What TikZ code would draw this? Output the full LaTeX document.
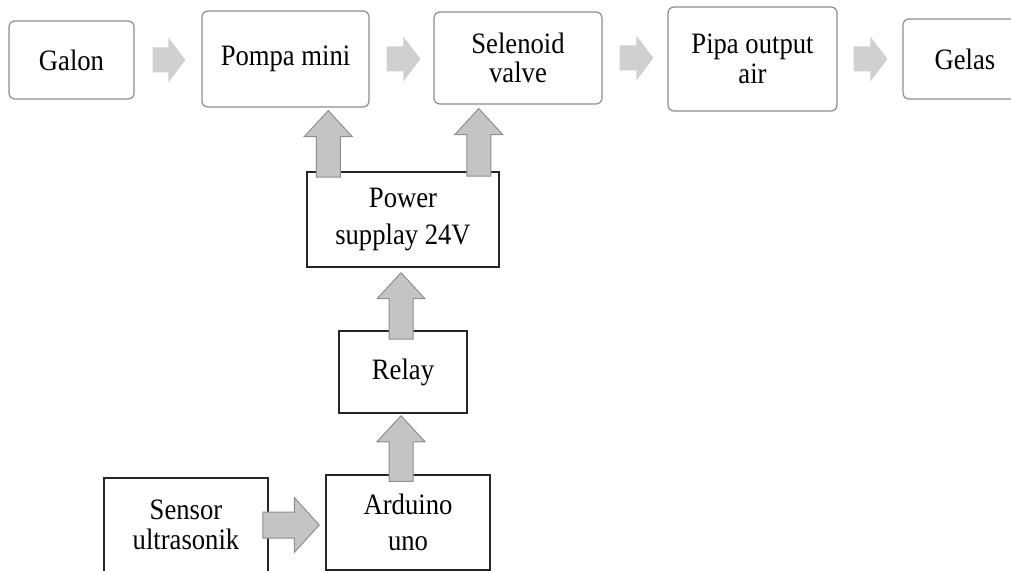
\documentclass[tikz,border=0pt]{standalone}
\usepackage{fontspec}
\setmainfont[FakeStretch=0.9]{Liberation Serif}
\usetikzlibrary{calc}

\definecolor{boxgray}{HTML}{8C8C8C}
\definecolor{pipefill}{HTML}{D0D0D0}
\definecolor{sigfill}{HTML}{C4C4C4}
\definecolor{sigline}{HTML}{8F8F8F}

\tikzset{
    rightblock/.style n args={3}{to path={let \p1=(\tikztostart), \p2=(\tikztotarget) in
        (\x1,\y1+#1) -- (\x2-#3,\y1+#1) -- (\x2-#3,\y1+#2) -- (\x2,\y1)
        -- (\x2-#3,\y1-#2) -- (\x2-#3,\y1-#1) -- (\x1,\y1-#1) -- cycle}},
    upblock/.style n args={3}{to path={let \p1=(\tikztostart), \p2=(\tikztotarget) in
        (\x1+#1,\y1) -- (\x1+#1,\y2-#3) -- (\x1+#2,\y2-#3) -- (\x1,\y2)
        -- (\x1-#2,\y2-#3) -- (\x1-#1,\y2-#3) -- (\x1-#1,\y1) -- cycle}},
    pipeflow/.style={fill=pipefill, draw=none, rightblock={6.25pt}{11.25pt}{8.5pt}},
    signal/.style={fill=sigfill, draw=sigline, line width=0.5pt},
    stagebox/.style={draw=boxgray, line width=0.6pt, rounded corners=3pt, fill=white,
        align=center, inner sep=0pt, font=\fontsize{14.8pt}{14.8pt}\selectfont},
    ctrlbox/.style={draw=black!85, line width=0.75pt, fill=white,
        align=center, inner sep=0pt, font=\fontsize{14.8pt}{15pt}\selectfont}
}

\begin{document}
\begin{tikzpicture}[x=0.5pt, y=-0.5pt]
    \useasboundingbox (0,0) rectangle (1011,571);
    \clip (0,0) rectangle (1011,571);

    \node[stagebox, minimum width=62.5pt, minimum height=39pt] (galon) at (71.5,60) {Galon};
    \node[stagebox, minimum width=83.5pt, minimum height=48pt] (pompa) at (285.5,59) {Pompa mini};
    \node[stagebox, minimum width=84pt, minimum height=46pt] (selenoid) at (518,58) {Selenoid\\valve};
    \node[stagebox, minimum width=84.5pt, minimum height=52pt] (pipa) at (752.5,59) {Pipa output\\air};
    \node[stagebox, minimum width=62pt, minimum height=40pt] (gelas) at (965,59) {Gelas};

    \node[ctrlbox, minimum width=96pt, minimum height=47.5pt] (power) at (403,219.5) {Power\\[3.5pt]supplay 24V};
    \node[ctrlbox, minimum width=64pt, minimum height=41pt] (relay) at (403,372) {Relay};
    \node[ctrlbox, minimum width=82pt, minimum height=47.5pt] (arduino) at (408,522.5) {Arduino\\[3pt]uno};
    \node[ctrlbox, minimum width=82pt, minimum height=47pt] (sensor) at (186,525) {Sensor\\ultrasonik};

    \path[pipeflow] ($(galon.east)+(18,0)$) to ($(pompa.west)+(-16,0)$);
    \path[pipeflow] ($(pompa.east)+(17,0)$) to ($(selenoid.west)+(-13,0)$);
    \path[pipeflow] ($(selenoid.east)+(17,0)$) to ($(pipa.west)+(-14,0)$);
    \path[pipeflow] ($(pipa.east)+(16,0)$) to ($(gelas.west)+(-15,0)$);

    \path[signal, upblock={6pt}{12pt}{13pt}] ($(power.north west)+(22,6)$) to ($(pompa.south)+(0,3)$);
    \path[signal, upblock={6pt}{12pt}{13pt}] ($(power.north east)+(-21,5)$) to ($(selenoid.south)+(0,4)$);
    \path[signal, upblock={6pt}{12pt}{13pt}] ($(relay.north)+(-2,9)$) to ($(power.south)+(0,5)$);
    \path[signal, upblock={6pt}{12pt}{13pt}] ($(arduino.north)+(-7,7)$) to ($(relay.south)+(0,2)$);
    \path[signal, rightblock={6.5pt}{13.75pt}{12.5pt}] ($(sensor.east)+(-6,0)$) to ($(arduino.west)+(-6,0)$);
\end{tikzpicture}
\end{document}
